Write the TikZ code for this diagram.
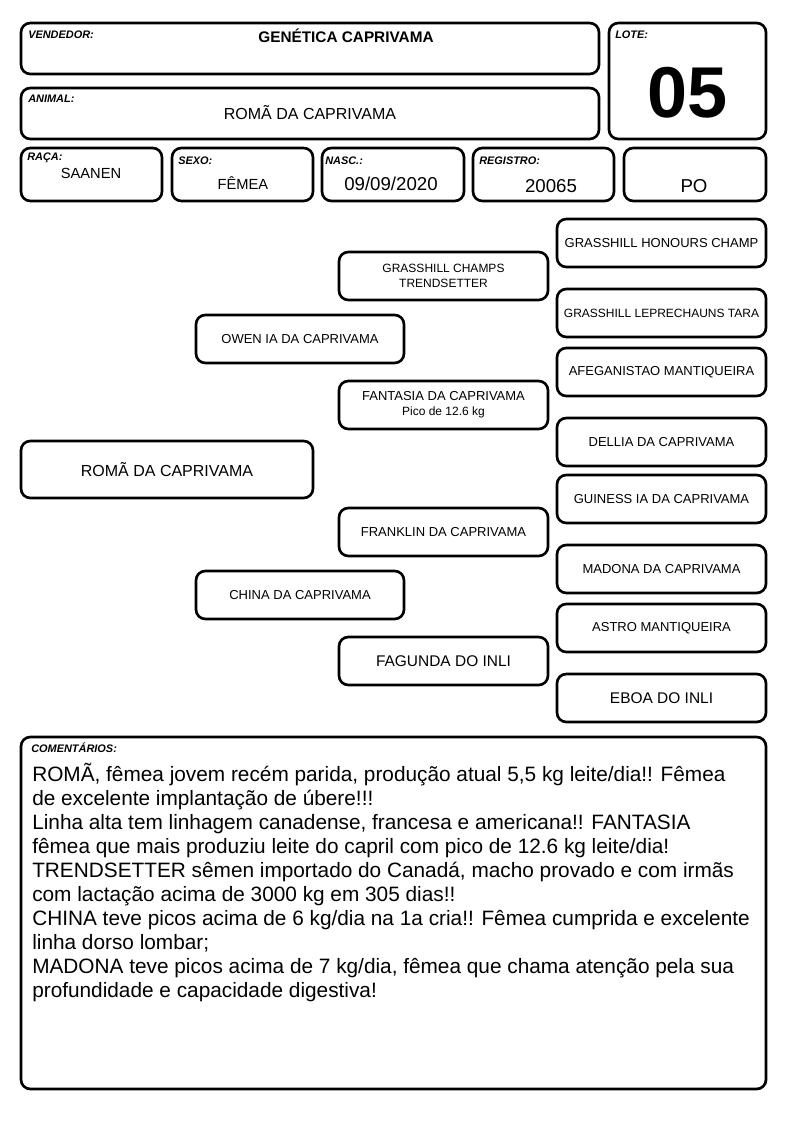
\documentclass[tikz,border=0pt]{standalone}
\usepackage{fontspec}
\setmainfont{Liberation Sans}
\usepackage{tikz}
\definecolor{white}{rgb}{1,1,1}

\tikzset{
    card/.style={rectangle,rounded corners=7pt,line width=2pt,draw,inner sep=0pt},
    wh/.style 2 args={minimum width=#1*0.75pt,minimum height=#2*0.75pt},
    tag/.style={anchor=base west,inner sep=0pt,font=\fontsize{8.2}{9}\selectfont\bfseries\itshape},
    val/.style={anchor=base,inner sep=0pt}
}

\begin{document}
\begin{tikzpicture}[x=0.75pt,y=-0.75pt]
\useasboundingbox[fill=white] (0,0) rectangle (794,1123);

% header
\begin{scope}[every node/.style={card}]
    \node[wh={578}{51}] (vendedor) at (310,48.5) {};
    \node[wh={157}{116}] (lote) at (687.5,81) {};
    \node[wh={578}{51}] (animal) at (310,113.5) {};
    \node[wh={141}{53}] (raca) at (91.5,174.5) {};
    \node[wh={141}{53}] (sexo) at (242.5,174.5) {};
    \node[wh={142}{53}] (nasc) at (393,174.5) {};
    \node[wh={141}{53}] (registro) at (543.5,174.5) {};
    \node[wh={142}{53}] (po) at (695,174.5) {};
\end{scope}
\begin{scope}[every node/.style={tag}]
    \node (vendedorTag) at (28,38.7) {VENDEDOR:};
    \node (loteTag) at (615,38.7) {LOTE:};
    \node (animalTag) at (28,103) {ANIMAL:};
    \node (racaTag) at (27,161) {RAÇA:};
    \node (sexoTag) at (178,164.7) {SEXO:};
    \node (nascTag) at (325,164.7) {NASC.:};
    \node (registroTag) at (479,164.7) {REGISTRO:};
\end{scope}
\begin{scope}[every node/.style={val}]
    \node[font=\fontsize{11.5}{13}\selectfont\bfseries] (vendedorVal) at (346,43) {GENÉTICA CAPRIVAMA};
    \node[font=\fontsize{54}{60}\selectfont\bfseries] (loteVal) at (687.5,118) {05};
    \node[font=\fontsize{12}{14}\selectfont] (animalVal) at (310,119.5) {ROMÃ DA CAPRIVAMA};
    \node[font=\fontsize{11}{13}\selectfont] (racaVal) at (91,178.5) {SAANEN};
    \node[font=\fontsize{11}{13}\selectfont] (sexoVal) at (243,189.5) {FÊMEA};
    \node[font=\fontsize{14}{16}\selectfont] (nascVal) at (391,191) {09/09/2020};
    \node[font=\fontsize{14}{16}\selectfont] (registroVal) at (551,192.5) {20065};
    \node[font=\fontsize{14}{16}\selectfont] (poVal) at (694,192.5) {PO};
\end{scope}

% pedigree
\begin{scope}[every node/.style={card,wh={209}{48},align=center,font=\fontsize{9.75}{11.5}\selectfont}]
    \node (honours) at (661.5,243) {GRASSHILL HONOURS CHAMP};
    \node[font=\fontsize{9}{11}\selectfont] (trendsetter) at (443.5,276) {GRASSHILL CHAMPS\\TRENDSETTER};
    \node[font=\fontsize{9}{11}\selectfont] (tara) at (661.5,313) {GRASSHILL LEPRECHAUNS TARA};
    \node[wh={208}{48}] (owen) at (300,339) {OWEN IA DA CAPRIVAMA};
    \node (afeganistao) at (661.5,372) {AFEGANISTAO MANTIQUEIRA};
    \node (fantasia) at (443.5,405) {FANTASIA DA CAPRIVAMA\\{\fontsize{9}{11}\selectfont Pico de 12.6 kg}};
    \node (dellia) at (661.5,442) {DELLIA DA CAPRIVAMA};
    \node[wh={292}{57},font=\fontsize{12}{14}\selectfont] (roma) at (167,469.5) {ROMÃ DA CAPRIVAMA};
    \node (guiness) at (661.5,499) {GUINESS IA DA CAPRIVAMA};
    \node (franklin) at (443.5,532) {FRANKLIN DA CAPRIVAMA};
    \node (madona) at (661.5,569) {MADONA DA CAPRIVAMA};
    \node[wh={208}{48}] (china) at (300,595) {CHINA DA CAPRIVAMA};
    \node (astro) at (661.5,628) {ASTRO MANTIQUEIRA};
    \node[font=\fontsize{11.6}{14}\selectfont] (fagunda) at (443.5,661) {FAGUNDA DO INLI};
    \node[font=\fontsize{11.6}{14}\selectfont] (eboa) at (661.5,698) {EBOA DO INLI};
\end{scope}

% comments
\node[card,wh={745}{352}] (comentarios) at (393.5,913) {};
\node[tag] (comentariosTag) at (31,752.7) {COMENTÁRIOS:};
\node[anchor=north west,inner sep=0pt,align=left,font=\fontsize{15.6}{18}\selectfont] (comentariosVal) at (32,762.5) {%
ROMÃ, fêmea jovem recém parida, produção atual 5,5 kg leite/dia!! Fêmea\\
de excelente implantação de úbere!!!\\
Linha alta tem linhagem canadense, francesa e americana!! FANTASIA\\
fêmea que mais produziu leite do capril com pico de 12.6 kg leite/dia!\\
TRENDSETTER sêmen importado do Canadá, macho provado e com irmãs\\
com lactação acima de 3000 kg em 305 dias!!\\
CHINA teve picos acima de 6 kg/dia na 1a cria!! Fêmea cumprida e excelente\\
linha dorso lombar;\\
MADONA teve picos acima de 7 kg/dia, fêmea que chama atenção pela sua\\
profundidade e capacidade digestiva!};
\end{tikzpicture}
\end{document}
